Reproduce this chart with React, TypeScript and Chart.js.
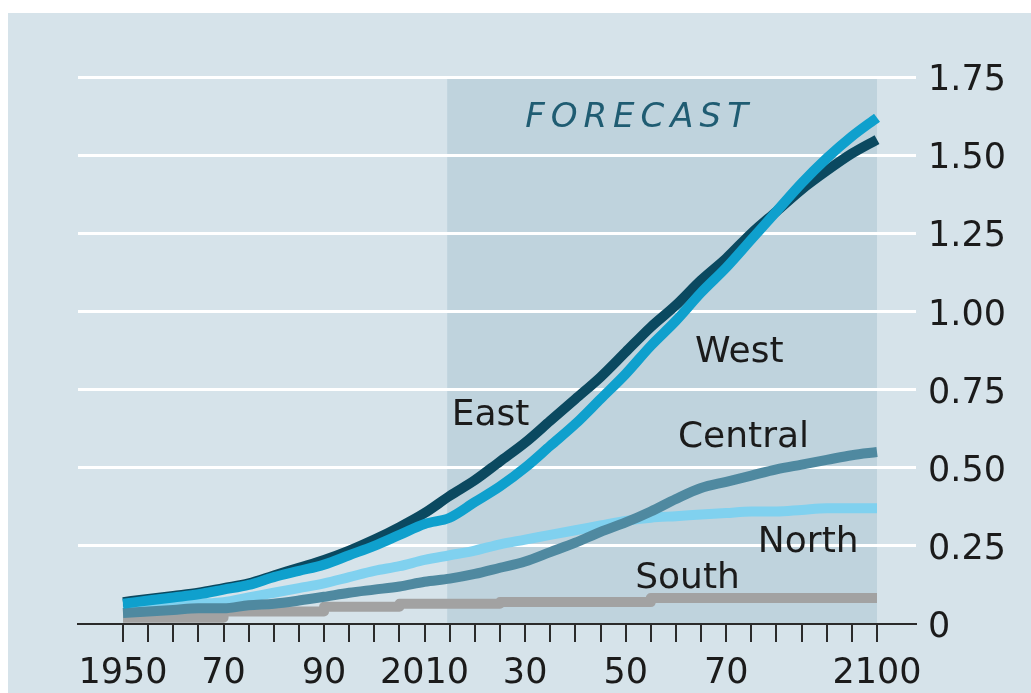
import React, { useEffect, useRef } from 'react';
import { Chart, registerables } from 'chart.js';

Chart.register(...registerables);

// ---- data ----
const years = [
  1950, 1955, 1960, 1965, 1970, 1975, 1980, 1985, 1990, 1995, 2000,
  2005, 2010, 2015, 2020, 2025, 2030, 2035, 2040, 2045, 2050,
  2055, 2060, 2065, 2070, 2075, 2080, 2085, 2090, 2095, 2100,
];
const east = [
  0.07, 0.08, 0.09, 0.10, 0.115, 0.13, 0.155, 0.18, 0.205, 0.235, 0.27,
  0.31, 0.355, 0.41, 0.46, 0.52, 0.58, 0.65, 0.72, 0.79, 0.87,
  0.95, 1.02, 1.10, 1.17, 1.25, 1.32, 1.39, 1.45, 1.505, 1.55,
];
const west = [
  0.065, 0.075, 0.085, 0.095, 0.11, 0.125, 0.15, 0.17, 0.19, 0.22, 0.25,
  0.285, 0.32, 0.34, 0.39, 0.44, 0.50, 0.57, 0.64, 0.72, 0.80,
  0.89, 0.97, 1.06, 1.14, 1.23, 1.32, 1.41, 1.49, 1.56, 1.62,
];
const central = [
  0.035, 0.04, 0.045, 0.05, 0.05, 0.06, 0.065, 0.075, 0.087, 0.10, 0.11,
  0.12, 0.135, 0.145, 0.16, 0.18, 0.20, 0.23, 0.26, 0.295, 0.325,
  0.36, 0.40, 0.435, 0.455, 0.475, 0.495, 0.51, 0.525, 0.54, 0.55,
];
const north = [
  0.05, 0.055, 0.06, 0.065, 0.07, 0.085, 0.10, 0.115, 0.13, 0.15, 0.17,
  0.185, 0.205, 0.22, 0.235, 0.255, 0.27, 0.285, 0.30, 0.315, 0.33,
  0.34, 0.345, 0.35, 0.355, 0.36, 0.36, 0.365, 0.37, 0.37, 0.37,
];
const south = [
  0.02, 0.02, 0.02, 0.02, 0.04, 0.04, 0.04, 0.04, 0.055, 0.055, 0.055,
  0.065, 0.065, 0.065, 0.065, 0.07, 0.07, 0.07, 0.07, 0.07, 0.07,
  0.083, 0.083, 0.083, 0.083, 0.083, 0.083, 0.083, 0.083, 0.083, 0.083,
];

const xTickYears = [
  1950, 1955, 1960, 1965, 1970, 1975, 1980, 1985, 1990, 1995, 2000,
  2005, 2010, 2015, 2020, 2025, 2030, 2035, 2040, 2045, 2050,
  2055, 2060, 2065, 2070, 2075, 2080, 2085, 2090, 2095, 2100,
];
const xLabelYears = [1950, 1970, 1990, 2010, 2030, 2050, 2070, 2100];
const xTickLabels = ['1950', '70', '90', '2010', '30', '50', '70', '2100'];
const yTickLabels = ['0', '0.25', '0.50', '0.75', '1.00', '1.25', '1.50', '1.75'];

const forecastStart = 2014.5;
const forecastEnd = 2100;
const forecastText = 'FORECAST';

// annotation anchors (year, value) for left/baseline of text
const regionLabels = [
  { text: 'East', year: 2015.4, value: 0.638 },
  { text: 'West', year: 2063.8, value: 0.837 },
  { text: 'Central', year: 2060.4, value: 0.567 },
  { text: 'North', year: 2076.3, value: 0.231 },
  { text: 'South', year: 2051.9, value: 0.115 },
];
const forecastAnchor = { year: 2030, value: 1.59 };

const FONT = '"DejaVu Sans", "Noto Sans", sans-serif';

const bgPlugin = {
  id: 'bgPanel',
  beforeDraw(chart: any) {
    const { ctx, chartArea, scales } = chart;
    const x = scales.x;
    ctx.save();
    ctx.fillStyle = '#ffffff';
    ctx.fillRect(0, 0, chart.width, chart.height);
    ctx.fillStyle = '#d6e3ea';
    ctx.fillRect(8, 13, chart.width - 8, chart.height - 13);
    const x0 = x.getPixelForValue(forecastStart);
    const x1 = x.getPixelForValue(forecastEnd);
    ctx.fillStyle = '#bfd3dd';
    ctx.fillRect(x0, chartArea.top + 2, x1 - x0, chartArea.bottom - chartArea.top - 2);
    ctx.restore();
  },
};

const textPlugin = {
  id: 'regionText',
  afterDatasetsDraw(chart: any) {
    const { ctx, scales } = chart;
    const x = scales.x;
    const y = scales.y;
    ctx.save();
    ctx.textBaseline = 'alphabetic';
    ctx.textAlign = 'left';
    ctx.fillStyle = '#1b1b1b';
    ctx.font = `36px ${FONT}`;
    for (const l of regionLabels) {
      ctx.fillText(l.text, x.getPixelForValue(l.year), y.getPixelForValue(l.value));
    }
    // FORECAST, italic, letter-spaced
    ctx.font = `italic 34px ${FONT}`;
    ctx.fillStyle = '#1f5c72';
    let px = x.getPixelForValue(forecastAnchor.year);
    const py = y.getPixelForValue(forecastAnchor.value);
    for (const ch of forecastText) {
      ctx.fillText(ch, px, py);
      px += ctx.measureText(ch).width + 6;
    }
    ctx.restore();
  },
};

export default function App() {
  const ref = useRef<HTMLCanvasElement | null>(null);

  useEffect(() => {
    if (!ref.current) return;
    const mk = (arr: number[]) => years.map((yr, i) => ({ x: yr, y: arr[i] }));
    const line = (label: string, arr: number[], color: string, stepped: any = false) => ({
      label,
      data: mk(arr),
      borderColor: color,
      backgroundColor: color,
      borderWidth: 10,
      pointRadius: 0,
      pointHoverRadius: 0,
      fill: false,
      borderCapStyle: 'butt',
      borderJoinStyle: 'round',
      cubicInterpolationMode: stepped ? 'default' : 'monotone',
      stepped,
    });

    const chart = new Chart(ref.current, {
      type: 'line',
      data: {
        datasets: [
          line('West', west, '#0fa0cd'),
          line('East', east, '#0b4960'),
          line('Central', central, '#4f89a0'),
          line('North', north, '#80d1ef'),
          line('South', south, '#a2a2a2', 'before'),
        ] as any,
      },
      options: {
        animation: false,
        responsive: false,
        devicePixelRatio: 1,
        layout: { padding: { left: 78, top: 77, right: 0, bottom: 0 } },
        plugins: {
          legend: { display: false },
          tooltip: { enabled: false },
          title: { display: false },
        },
        scales: {
          x: {
            type: 'linear',
            min: 1950 - 45 / 5.027,
            max: 2100 + 39 / 5.027,
            afterBuildTicks: (s: any) => {
              s.ticks = xTickYears.map((v) => ({ value: v }));
            },
            afterFit: (s: any) => {
              s.height = 69;
            },
            ticks: {
              autoSkip: false,
              maxRotation: 0,
              minRotation: 0,
              padding: 11,
              color: '#1b1b1b',
              font: { family: FONT, size: 35 },
              callback: (v: any) => {
                const i = xLabelYears.indexOf(Number(v));
                return i >= 0 ? xTickLabels[i] : '';
              },
            },
            grid: {
              drawOnChartArea: false,
              drawTicks: true,
              tickLength: 18,
              tickColor: '#2b2b2b',
              lineWidth: 2,
            },
            border: { display: true, color: '#2b2b2b', width: 2 },
          },
          y: {
            position: 'right',
            min: 0,
            max: 1.75,
            afterFit: (s: any) => {
              s.width = 115;
            },
            ticks: {
              stepSize: 0.25,
              padding: 12,
              labelOffset: 4,
              color: '#1b1b1b',
              font: { family: FONT, size: 35 },
              callback: (v: any) => {
                const i = Math.round(Number(v) / 0.25);
                return yTickLabels[i] ?? '';
              },
            },
            grid: {
              color: (c: any) => (c.tick && c.tick.value === 0 ? 'rgba(0,0,0,0)' : '#ffffff'),
              lineWidth: 3,
              drawTicks: false,
            },
            border: { display: false },
          },
        },
      } as any,
      plugins: [bgPlugin, textPlugin],
    });
    return () => chart.destroy();
  }, []);

  return (
    <div style={{ position: 'fixed', left: 0, top: 0, width: 1031, height: 693, background: '#fff' }}>
      <canvas ref={ref} width={1031} height={693} style={{ display: 'block' }} />
    </div>
  );
}
